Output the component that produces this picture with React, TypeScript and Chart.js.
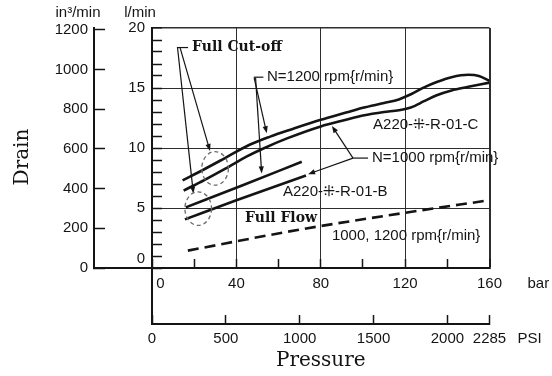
import React, { useEffect, useRef } from 'react';
import { Chart, registerables } from 'chart.js';

Chart.register(...registerables);

// ---- axis ticks ----
const BAR_TICKS = [0, 20, 40, 60, 80, 100, 120, 140, 160];
const PSI_TICKS = [0, 500, 1000, 1500, 2000, 2285];
const LPM_TICKS = [0, 1, 2, 3, 4, 5, 6, 7, 8, 9, 10, 11, 12, 13, 14, 15, 16, 17, 18, 19, 20];
const IN3_TICKS = [0, 200, 400, 600, 800, 1000, 1200];

// ---- series (pressure in bar, drain in l/min) ----
const C1200_BAR = [14.5, 25, 35, 46, 56, 66, 80, 92, 100, 110, 117, 123, 129, 135, 142, 150, 155, 160];
const C1200_LPM = [7.3, 8.25, 9.2, 10.25, 10.95, 11.55, 12.35, 12.95, 13.35, 13.75, 14.05, 14.5, 15.05, 15.5, 15.9, 16.1, 16.0, 15.6];

const C1000_BAR = [15, 25, 35, 45, 52, 64, 80, 92, 100, 110, 117, 123, 129, 135, 142, 150, 160];
const C1000_LPM = [6.45, 7.35, 8.3, 9.3, 9.9, 10.8, 11.8, 12.35, 12.7, 13.0, 13.15, 13.4, 13.9, 14.4, 14.8, 15.1, 15.45];

const B1200_BAR = [16, 43, 71];
const B1200_LPM = [5.05, 6.9, 8.85];

const B1000_BAR = [15.6, 40, 73];
const B1000_LPM = [4.05, 5.65, 7.7];

const FLOW_BAR = [17, 70, 118, 160];
const FLOW_LPM = [1.45, 3.2, 4.55, 5.65];

// ---- annotation texts ----
const TXT_CUTOFF = 'Full Cut-off';
const TXT_N1200 = 'N=1200 rpm{r/min}';
const TXT_N1000 = 'N=1000 rpm{r/min}';
const TXT_C = 'A220-\u205C-R-01-C';
const TXT_B = 'A220-\u205C-R-01-B';
const TXT_FLOW = 'Full Flow';
const TXT_FLOWRPM = '1000, 1200 rpm{r/min}';

const INK = '#141414';
const SANS = '"Liberation Sans", Arial, sans-serif';
const SERIF = '"DejaVu Serif", serif';

const zip = (xs: number[], ys: number[]) => xs.map((x, i) => ({ x, y: ys[i] }));

function arrowLine(ctx: CanvasRenderingContext2D, x1: number, y1: number, x2: number, y2: number) {
  const a = Math.atan2(y2 - y1, x2 - x1);
  const L = 7, W = 2.6;
  ctx.beginPath();
  ctx.moveTo(x1, y1);
  ctx.lineTo(x2 - Math.cos(a) * L * 0.8, y2 - Math.sin(a) * L * 0.8);
  ctx.stroke();
  ctx.beginPath();
  ctx.moveTo(x2, y2);
  ctx.lineTo(x2 - Math.cos(a) * L - Math.sin(a) * W, y2 - Math.sin(a) * L + Math.cos(a) * W);
  ctx.lineTo(x2 - Math.cos(a) * L + Math.sin(a) * W, y2 - Math.sin(a) * L - Math.cos(a) * W);
  ctx.closePath();
  ctx.fill();
}

const extrasPlugin = {
  id: 'extras',
  afterDraw(chart: any) {
    const { ctx, chartArea, scales } = chart;
    const { x, y, x2, y2 } = scales;
    const px = (v: number) => x.getPixelForValue(v);
    const py = (v: number) => y.getPixelForValue(v);
    ctx.save();
    ctx.strokeStyle = INK;
    ctx.fillStyle = INK;

    // axis extensions
    ctx.lineWidth = 2;
    ctx.beginPath();
    ctx.moveTo(y2.right - 1, chartArea.bottom);
    ctx.lineTo(chartArea.left, chartArea.bottom);
    ctx.moveTo(chartArea.left, chartArea.bottom);
    ctx.lineTo(chartArea.left, x2.top + 1);
    ctx.stroke();

    // unit labels
    ctx.font = `15px ${SANS}`;
    ctx.textBaseline = 'middle';
    ctx.textAlign = 'center';
    ctx.fillText('in\u00B3/min', y2.right - 16, 13);
    ctx.fillText('l/min', chartArea.left - 12, 13);
    ctx.textAlign = 'left';
    ctx.fillText('bar', chartArea.right + 38, chartArea.bottom + 15.5);
    ctx.fillText('PSI', chartArea.right + 28, x2.top + 14.5);

    // Drain title
    ctx.save();
    ctx.translate(23, (chartArea.top + chartArea.bottom) / 2 + 9);
    ctx.rotate(-Math.PI / 2);
    ctx.textAlign = 'center';
    ctx.font = `20px ${SERIF}`;
    ctx.fillText('Drain', 0, 0);
    ctx.restore();

    // ---- annotations ----
    ctx.lineWidth = 1.2;
    // Full Cut-off
    ctx.font = `bold 14px ${SERIF}`;
    ctx.textAlign = 'left';
    ctx.fillText(TXT_CUTOFF, px(19), py(18.37));
    ctx.beginPath();
    ctx.moveTo(px(11.8), py(18.37));
    ctx.lineTo(px(17.1), py(18.37));
    ctx.stroke();
    arrowLine(ctx, px(12.1), py(18.37), px(19.6), py(6.21));
    arrowLine(ctx, px(13.3), py(18.37), px(27.5), py(9.75));

    // dashed ellipses
    ctx.save();
    ctx.strokeStyle = '#6a6a6a';
    ctx.lineWidth = 1.3;
    ctx.setLineDash([4, 3]);
    ctx.beginPath();
    ctx.ellipse(px(29.9), py(8.3), px(6.3) - px(0), py(0) - py(1.4), 0, 0, Math.PI * 2);
    ctx.stroke();
    ctx.beginPath();
    ctx.ellipse(px(21.9), py(4.95), px(6.3) - px(0), py(0) - py(1.4), 0, 0, Math.PI * 2);
    ctx.stroke();
    ctx.restore();

    // N=1200
    ctx.font = `15px ${SANS}`;
    ctx.fillText(TXT_N1200, px(54.5), py(15.9));
    ctx.beginPath();
    ctx.moveTo(px(48.3), py(15.9));
    ctx.lineTo(px(52.8), py(15.9));
    ctx.stroke();
    arrowLine(ctx, px(48.4), py(15.86), px(54.4), py(11.23));
    arrowLine(ctx, px(49.1), py(15.86), px(52.0), py(7.88));

    // C label
    ctx.fillText(TXT_C, px(104.8), py(11.92));

    // N=1000
    ctx.fillText(TXT_N1000, px(104.3), py(9.16));
    ctx.beginPath();
    ctx.moveTo(px(95.3), py(9.16));
    ctx.lineTo(px(102.4), py(9.16));
    ctx.stroke();
    arrowLine(ctx, px(95.3), py(9.16), px(85.3), py(11.84));
    arrowLine(ctx, px(95.3), py(9.16), px(74.0), py(7.82));

    // B label
    ctx.fillText(TXT_B, px(62.1), py(6.32));

    // Full Flow
    ctx.font = `bold 14px ${SERIF}`;
    ctx.fillText(TXT_FLOW, px(44.1), py(4.12));
    ctx.font = `15px ${SANS}`;
    ctx.fillText(TXT_FLOWRPM, px(85.3), py(2.72));

    ctx.restore();
  },
};

const tickFont = { family: '"Liberation Sans", Arial, sans-serif', size: 15 };

export default function App() {
  const ref = useRef<HTMLCanvasElement>(null);
  useEffect(() => {
    if (!ref.current) return;
    const lineDs = (label: string, xs: number[], ys: number[], dash: number[] = []) => ({
      label,
      data: zip(xs, ys),
      borderColor: INK,
      backgroundColor: INK,
      borderWidth: 2.6,
      borderDash: dash,
      pointRadius: 0,
      fill: false,
      cubicInterpolationMode: 'monotone' as const,
      xAxisID: 'x',
      yAxisID: 'y',
    });
    const chart = new Chart(ref.current, {
      type: 'line',
      data: {
        datasets: [
          lineDs('A220-R-01-C N=1200', C1200_BAR, C1200_LPM),
          lineDs('A220-R-01-C N=1000', C1000_BAR, C1000_LPM),
          lineDs('A220-R-01-B N=1200', B1200_BAR, B1200_LPM),
          lineDs('A220-R-01-B N=1000', B1000_BAR, B1000_LPM),
          lineDs('Full Flow 1000, 1200', FLOW_BAR, FLOW_LPM, [11, 6]),
        ],
      },
      options: {
        animation: false,
        responsive: true,
        maintainAspectRatio: false,
        layout: { padding: { left: 0, right: 62.5, top: 28, bottom: 0 } },
        plugins: { legend: { display: false }, tooltip: { enabled: false } },
        scales: {
          x: {
            type: 'linear',
            position: 'bottom',
            weight: 0,
            min: 0,
            max: 160,
            afterBuildTicks: (s: any) => { s.ticks = BAR_TICKS.map((v) => ({ value: v })); },
            afterFit: (s: any) => { s.height = 56; },
            grid: {
              color: (c: any) => (c.tick && c.tick.value % 40 === 0 ? '#2e2e2e' : 'rgba(0,0,0,0)'),
              lineWidth: (c: any) => (c.tick && c.tick.value === 160 ? 2 : 1),
              tickColor: INK,
              tickLength: -9,
              tickWidth: 1.5,
            },
            border: { color: INK, width: 2 },
            ticks: {
              autoSkip: false,
              maxRotation: 0,
              padding: 15.5,
              color: INK,
              font: tickFont,
              callback: (v: any) => (v % 40 === 0 ? (v === 0 ? '    0' : String(v)) : ''),
            },
          },
          x2: {
            type: 'linear',
            position: 'bottom',
            weight: 10,
            min: 0,
            max: 2285,
            afterBuildTicks: (s: any) => { s.ticks = PSI_TICKS.map((v) => ({ value: v })); },
            afterFit: (s: any) => { s.height = 52; },
            grid: { drawOnChartArea: false, color: INK, tickLength: -9, tickWidth: 1.5 },
            border: { color: INK, width: 2 },
            ticks: {
              autoSkip: false,
              maxRotation: 0,
              padding: 14.5,
              color: INK,
              font: tickFont,
              callback: (v: any) => String(v),
            },
            title: {
              display: true,
              text: 'Pressure',
              color: INK,
              font: { family: '"DejaVu Serif", serif', size: 20 },
              padding: { top: 0, bottom: 3 },
            },
          },
          y: {
            type: 'linear',
            position: 'left',
            weight: 0,
            min: 0,
            max: 20,
            afterBuildTicks: (s: any) => { s.ticks = LPM_TICKS.map((v) => ({ value: v })); },
            afterFit: (s: any) => { s.width = 58; },
            grid: {
              color: (c: any) => (c.tick && c.tick.value % 5 === 0 ? '#2e2e2e' : 'rgba(0,0,0,0)'),
              lineWidth: (c: any) => (c.tick && c.tick.value === 20 ? 1.5 : 1),
              tickColor: INK,
              tickLength: -10,
              tickWidth: 1.5,
            },
            border: { color: INK, width: 2 },
            ticks: {
              autoSkip: false,
              padding: 17,
              color: INK,
              font: tickFont,
              callback: (v: any) => (v % 5 === 0 ? (v === 0 ? ['0', ''] : String(v)) : ''),
            },
          },
          y2: {
            type: 'linear',
            position: 'left',
            weight: 10,
            min: 0,
            max: 1210,
            afterBuildTicks: (s: any) => { s.ticks = IN3_TICKS.map((v) => ({ value: v })); },
            afterFit: (s: any) => { s.width = 94; },
            grid: { drawOnChartArea: false, color: INK, tickLength: -11, tickWidth: 1.5 },
            border: { color: INK, width: 2 },
            ticks: {
              autoSkip: false,
              padding: 17,
              color: INK,
              font: tickFont,
              callback: (v: any) => String(v),
            },
          },
        },
      } as any,
      plugins: [extrasPlugin],
    });
    return () => chart.destroy();
  }, []);

  return (
    <div style={{ position: 'absolute', left: 0, top: 0, width: 552, height: 376, background: '#fff' }}>
      <canvas ref={ref} />
    </div>
  );
}
